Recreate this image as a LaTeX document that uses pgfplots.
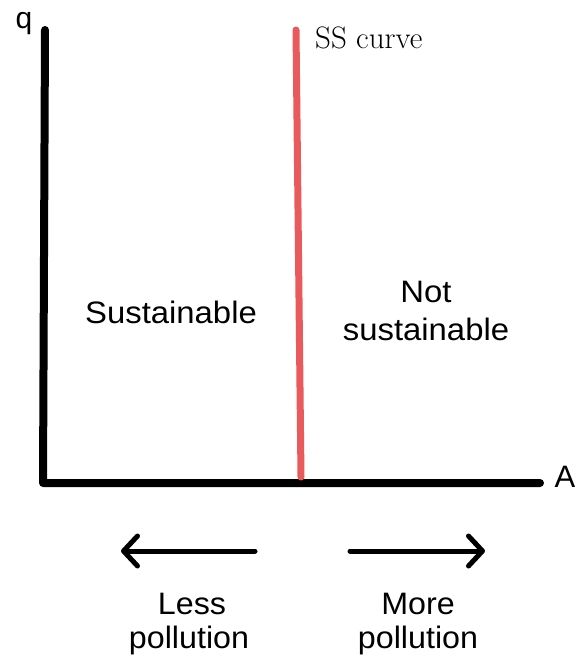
\documentclass[border=0pt]{standalone}
\usepackage{pgfplots}
\pgfplotsset{compat=1.18}
\usepackage{fontspec}
\setmainfont{Liberation Sans}
\newfontfamily\lmr{Latin Modern Roman}
\usetikzlibrary{arrows.meta}
\definecolor{ssred}{HTML}{E85A5C}
\begin{document}
\begin{tikzpicture}
\begin{axis}[
  width=576pt, height=659pt, scale only axis,
  xmin=0, xmax=576, ymin=0, ymax=659, y dir=reverse,
  axis lines=none, clip=false,
]
% axes
\addplot[black, line width=8pt, line cap=round, line join=round] coordinates {(45,30) (43,483) (540,483)};
% SS curve
\addplot[ssred, line width=7pt, line cap=round] coordinates {(296,30) (301,477)};
% arrows
\addplot[black, line width=5pt, line cap=round, -{Straight Barb[length=14pt, width=30pt, round, line width=5pt]}] coordinates {(255,551) (121,551)};
\addplot[black, line width=5pt, line cap=round, -{Straight Barb[length=14pt, width=30pt, round, line width=5pt]}] coordinates {(350,551) (485,551)};
% labels
\node[font=\fontsize{30}{36}\selectfont, anchor=base, inner sep=0pt] at (axis cs:24,28) {q};
\node[font=\fontsize{31}{36}\selectfont, anchor=base, inner sep=0pt] at (axis cs:565,487) {A};
\node[font=\lmr\fontsize{31}{36}\selectfont, anchor=base west, inner sep=0pt] at (axis cs:315,48) {SS curve};
\node[font=\fontsize{31}{37}\selectfont, anchor=base, inner sep=0pt, xscale=1.06] at (axis cs:171,323) {Sustainable};
\node[font=\fontsize{31}{37}\selectfont, anchor=base, inner sep=0pt, xscale=1.06] at (axis cs:426,302) {Not};
\node[font=\fontsize{31}{37}\selectfont, anchor=base, inner sep=0pt, xscale=1.06] at (axis cs:426,340) {sustainable};
\node[font=\fontsize{31}{37}\selectfont, anchor=base, inner sep=0pt, xscale=1.04] at (axis cs:192,614) {Less};
\node[font=\fontsize{31}{37}\selectfont, anchor=base, inner sep=0pt, xscale=1.04] at (axis cs:189,648) {pollution};
\node[font=\fontsize{31}{37}\selectfont, anchor=base, inner sep=0pt, xscale=1.04] at (axis cs:418,614) {More};
\node[font=\fontsize{31}{37}\selectfont, anchor=base, inner sep=0pt, xscale=1.04] at (axis cs:418,648) {pollution};
\end{axis}
\pgfresetboundingbox
\path (current axis.south west) rectangle (current axis.north east);
\end{tikzpicture}
\end{document}
